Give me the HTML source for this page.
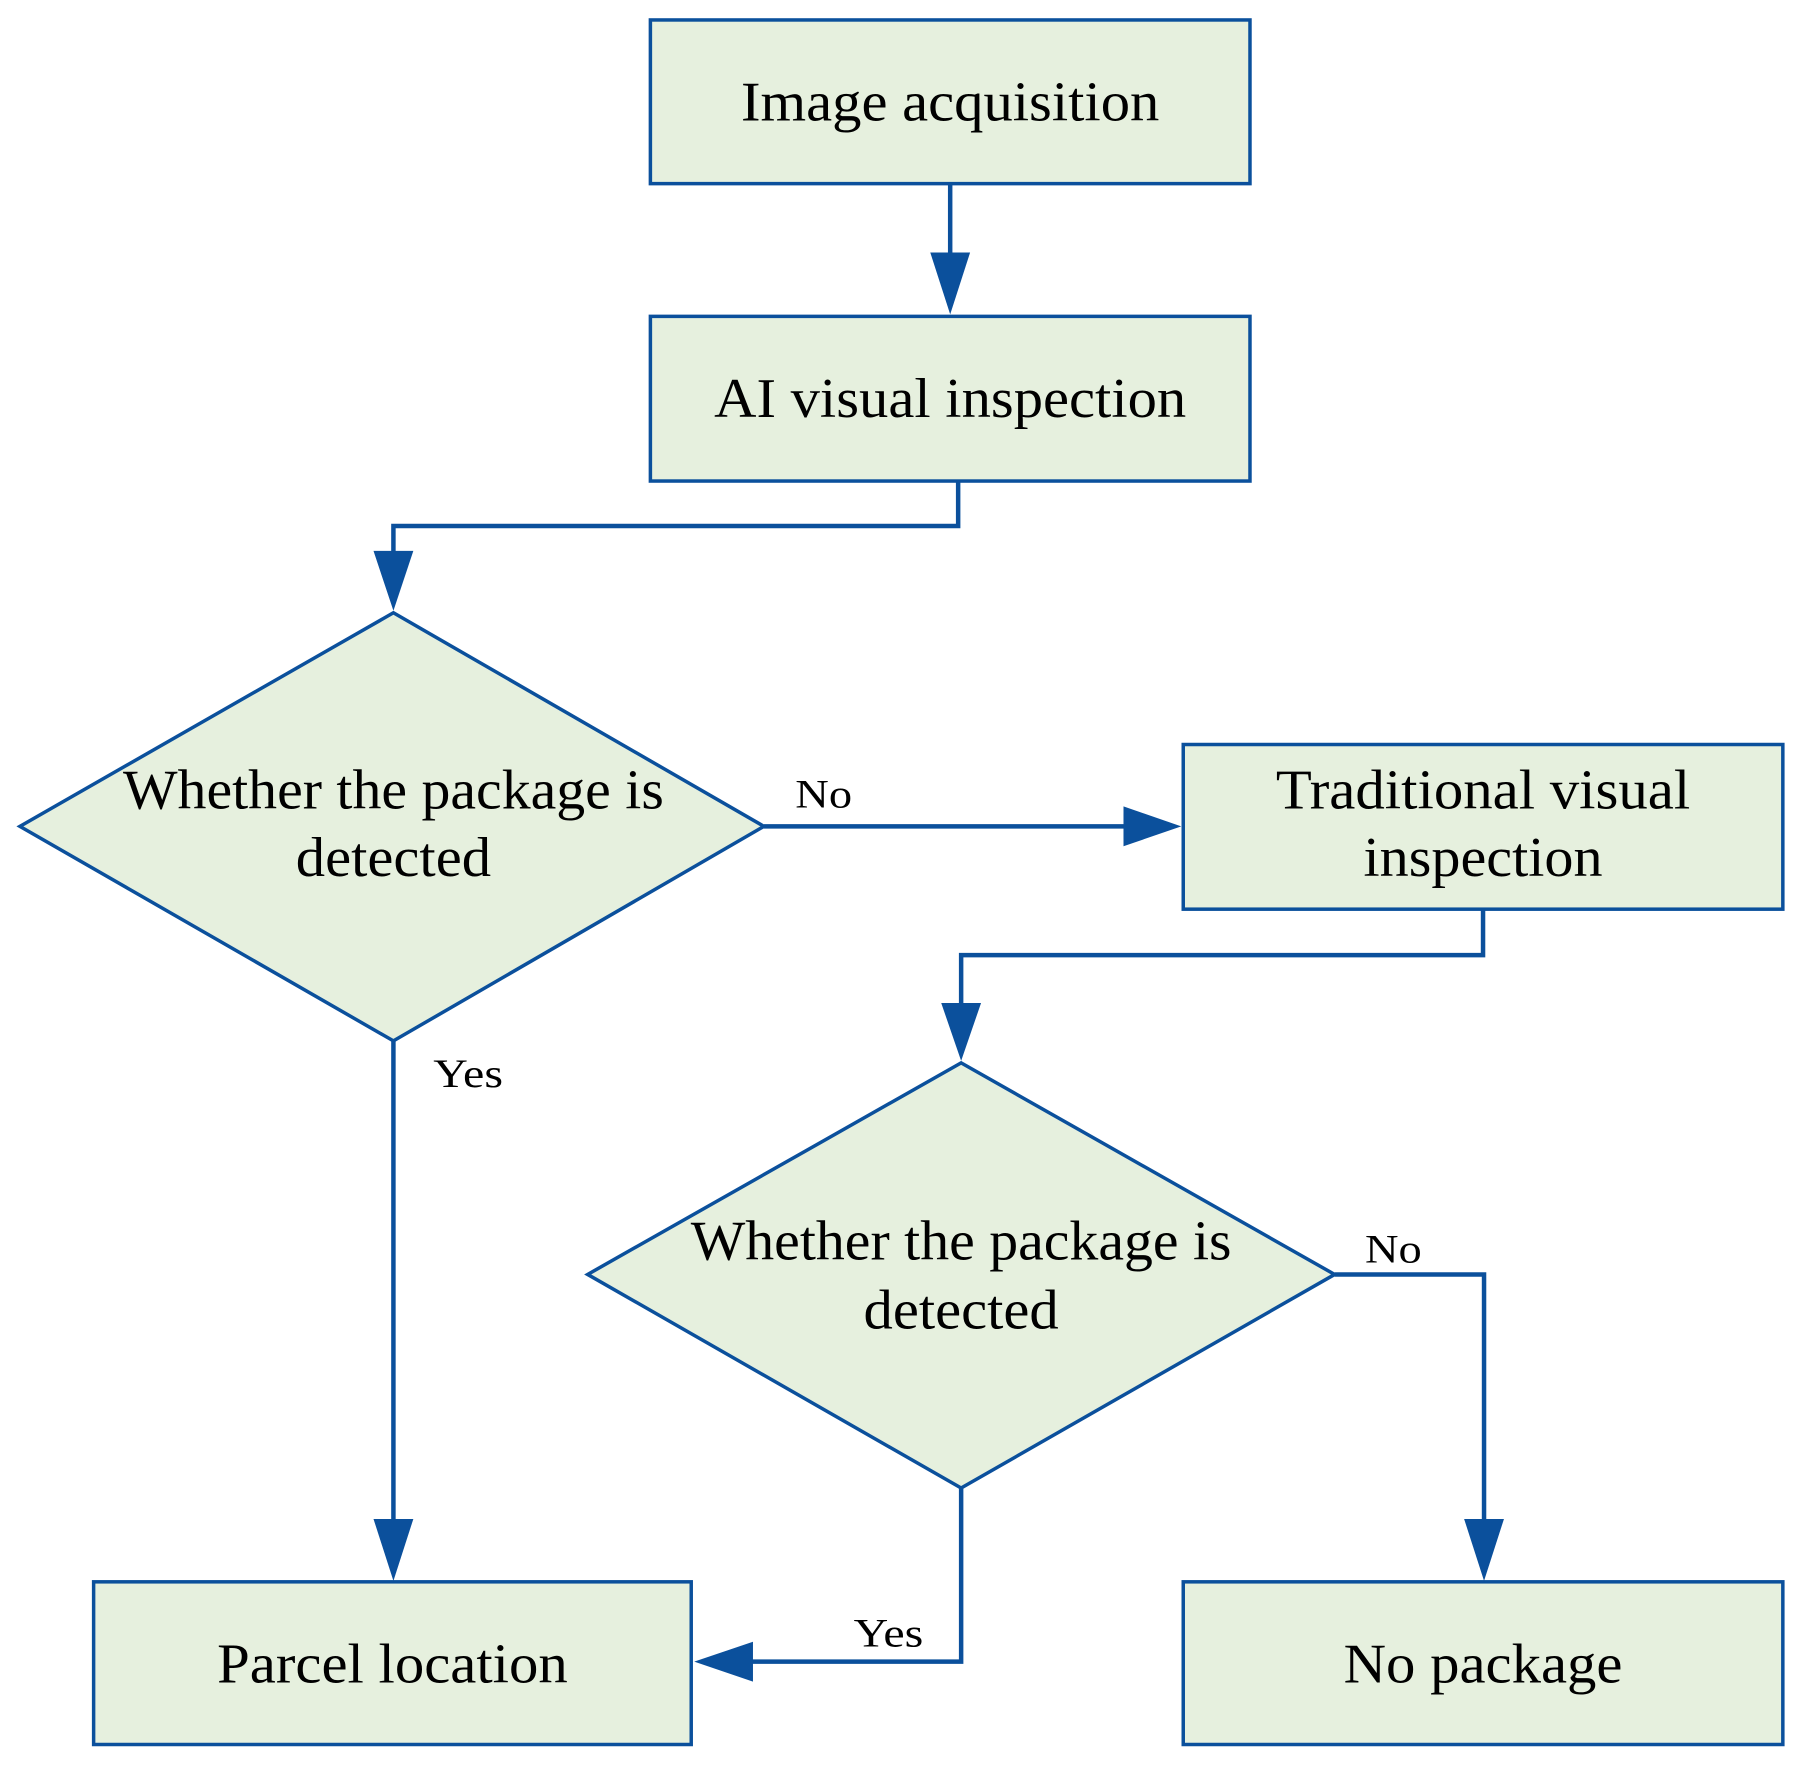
<!DOCTYPE html>
<html><head><meta charset="utf-8"><style>html,body{margin:0;padding:0;background:#fff}svg{display:block}</style></head>
<body>
<svg width="1812" height="1777" viewBox="0 0 1812 1777" xmlns="http://www.w3.org/2000/svg" font-family="'Liberation Serif', serif">
<g transform="scale(0.996,0.998)">
<g fill="#e6f0de" stroke="#0b509c" stroke-width="3.5">
<rect x="653" y="20" width="602" height="164"/>
<rect x="653" y="317" width="602" height="165"/>
<polygon points="395,614 767,828 395,1043 20,828"/>
<rect x="1188" y="746" width="602" height="165"/>
<polygon points="965,1065 1340,1277 965,1491 590,1277"/>
<rect x="94" y="1585" width="600" height="163"/>
<rect x="1188" y="1585" width="602" height="163"/>
</g>
<g fill="none" stroke="#0b509c" stroke-width="4.5">
<polyline points="954,184 954,262"/>
<polyline points="962,482 962,527 395,527 395,560"/>
<polyline points="767,828 1132,828"/>
<polyline points="1489,911 1489,957 965,957 965,1010"/>
<polyline points="1340,1277 1490,1277 1490,1525"/>
<polyline points="395,1043 395,1525"/>
<polyline points="965,1491 965,1665 750,1665"/>
</g>
<g fill="#0b509c">
<polygon points="934,253 974,253 954,315"/>
<polygon points="375,552 415,552 395,612"/>
<polygon points="1128,808 1128,848 1186,828"/>
<polygon points="945,1005 985,1005 965,1063"/>
<polygon points="1470,1522 1510,1522 1490,1584"/>
<polygon points="375,1522 415,1522 395,1584"/>
<polygon points="756,1645 756,1685 697,1665"/>
</g>
<g fill="#000" font-size="56" text-anchor="middle">
<text x="954" y="121" textLength="420" lengthAdjust="spacingAndGlyphs">Image acquisition</text>
<text x="954" y="418" textLength="474" lengthAdjust="spacingAndGlyphs">AI visual inspection</text>
<text x="395" y="810" textLength="543" lengthAdjust="spacingAndGlyphs">Whether the package is</text>
<text x="395" y="878" textLength="196" lengthAdjust="spacingAndGlyphs">detected</text>
<text x="1489" y="810" textLength="416" lengthAdjust="spacingAndGlyphs">Traditional visual</text>
<text x="1489" y="878" textLength="240" lengthAdjust="spacingAndGlyphs">inspection</text>
<text x="965" y="1262" textLength="543" lengthAdjust="spacingAndGlyphs">Whether the package is</text>
<text x="965" y="1331" textLength="196" lengthAdjust="spacingAndGlyphs">detected</text>
<text x="394" y="1686" textLength="352" lengthAdjust="spacingAndGlyphs">Parcel location</text>
<text x="1489" y="1686" textLength="280" lengthAdjust="spacingAndGlyphs">No package</text>
</g>
<g fill="#000" font-size="40" text-anchor="middle">
<text x="827" y="809" textLength="57" lengthAdjust="spacingAndGlyphs">No</text>
<text x="1399" y="1265" textLength="57" lengthAdjust="spacingAndGlyphs">No</text>
<text x="470" y="1089" textLength="70" lengthAdjust="spacingAndGlyphs">Yes</text>
<text x="892" y="1650" textLength="70" lengthAdjust="spacingAndGlyphs">Yes</text>
</g>
</g>
</svg>
</body></html>
